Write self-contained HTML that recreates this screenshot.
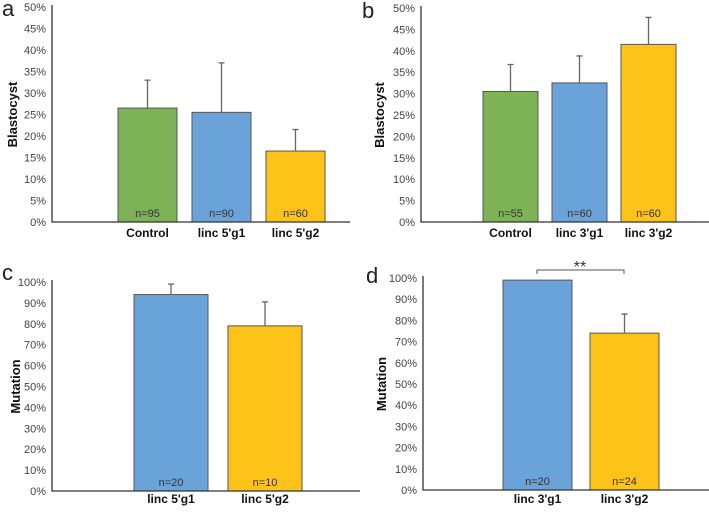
<!DOCTYPE html>
<html><head><meta charset="utf-8"><style>
body{margin:0;background:#fff;width:709px;height:508px;overflow:hidden}
text{font-family:"Liberation Sans",sans-serif}
</style></head><body>
<svg id="s" width="709" height="508"></svg>
<script>
// Panel data
const aCats=["Control","linc 5'g1","linc 5'g2"];
const aVals=[26.5,25.5,16.5];
const aErr=[33,37,21.5];
const aN=["n=95","n=90","n=60"];
const bCats=["Control","linc 3'g1","linc 3'g2"];
const bVals=[30.5,32.5,41.5];
const bErr=[36.8,38.8,47.8];
const bN=["n=55","n=60","n=60"];
const cCats=["linc 5'g1","linc 5'g2"];
const cVals=[94,79];
const cErr=[99,90.5];
const cN=["n=20","n=10"];
const dCats=["linc 3'g1","linc 3'g2"];
const dVals=[99,74];
const dErr=[99,83];
const dN=["n=20","n=24"];
const blastTicks=[0,5,10,15,20,25,30,35,40,45,50];
const mutTicks=[0,10,20,30,40,50,60,70,80,90,100];
const GREEN="#7db356",BLUE="#6aa3d9",YELLOW="#fec319";

const svg=document.getElementById('s');
const NS="http://www.w3.org/2000/svg";
function el(tag,attrs,parent){const e=document.createElementNS(NS,tag);for(const k in attrs)e.setAttribute(k,attrs[k]);(parent||svg).appendChild(e);return e;}

function panel(id,letter,lx,ly,cfg){
  const g=el('g',{});
  
  
  const y=v=>cfg.y0-(v/cfg.max)*(cfg.y0-cfg.yTop);
  const L=el('text',{x:lx,y:ly,'font-size':22,fill:'#222'},g);L.textContent=letter;
  
  
  cfg.ticks.forEach(t=>{
    const tx=el('text',{x:cfg.ax-6,y:y(t)+4,'font-size':11,fill:'#444','text-anchor':'end'},g);
    tx.textContent=t+'%';
    
    
  });
  const yt=el('text',{x:0,y:0,'font-size':13,'font-weight':'bold',fill:'#111','text-anchor':'middle',transform:`translate(${cfg.titleX},${(cfg.y0+cfg.yTop)/2}) rotate(-90)`},g);
  yt.textContent=cfg.title;
  
  
  cfg.cats.forEach((c,i)=>{
    const x0=cfg.bx[i],w=cfg.bw;
    const top=y(cfg.vals[i]);
    const r=el('rect',{x:x0,y:top,width:w,height:cfg.y0-top,fill:cfg.colors[i],stroke:'#555','stroke-width':1},g);
    
    
    const cx=x0+w/2;
    if(cfg.err[i]>cfg.vals[i]){
      const ey=y(cfg.err[i]);
      const e=el('path',{d:`M${cx},${top}V${ey}M${cx-3},${ey}H${cx+3}`,stroke:'#666','stroke-width':1.3,fill:'none'},g);
      
      
    }
    const n=el('text',{x:cx,y:cfg.y0-5,'font-size':11,fill:'#333','text-anchor':'middle'},g);n.textContent=cfg.n[i];
    
    
    const cl=el('text',{x:cx,y:cfg.y0+cfg.labOff,'font-size':12,'font-weight':'bold',fill:'#111','text-anchor':'middle'},g);cl.textContent=c;
    
    
  });
  const ax=el('path',{d:`M${cfg.ax},${cfg.yTop-2}V${cfg.y0}H${cfg.axEnd}`,stroke:'#333','stroke-width':1.3,fill:'none'},g);
  
  
  return {g,y};
}
panel('a','a',2,16,{ax:52,axEnd:350,y0:222,yTop:7,max:50,ticks:blastTicks,title:'Blastocyst',titleX:17,labOff:15,
  cats:aCats,vals:aVals,err:aErr,n:aN,bx:[118,192,266],bw:59,colors:[GREEN,BLUE,YELLOW]});
panel('b','b',362,18,{ax:421,axEnd:709,y0:222,yTop:8,max:50,ticks:blastTicks,title:'Blastocyst',titleX:384,labOff:15,
  cats:bCats,vals:bVals,err:bErr,n:bN,bx:[483,552,621],bw:55,colors:[GREEN,BLUE,YELLOW]});
panel('c','c',2,280,{ax:52,axEnd:360,y0:491,yTop:282,max:100,ticks:mutTicks,title:'Mutation',titleX:20,labOff:12,
  cats:cCats,vals:cVals,err:cErr,n:cN,bx:[134,228],bw:74,colors:[BLUE,YELLOW]});
panel('d','d',366,283,{ax:423,axEnd:709,y0:490,yTop:278,max:100,ticks:mutTicks,title:'Mutation',titleX:386,labOff:13,
  cats:dCats,vals:dVals,err:dErr,n:dN,bx:[503,590],bw:69,colors:[BLUE,YELLOW]});
const br=el('path',{d:'M537,274V270H624V274',stroke:'#555','stroke-width':1,fill:'none'});


const st=el('text',{x:580,y:272,'font-size':16,fill:'#333','text-anchor':'middle'});st.textContent='**';


</script>
</body></html>
